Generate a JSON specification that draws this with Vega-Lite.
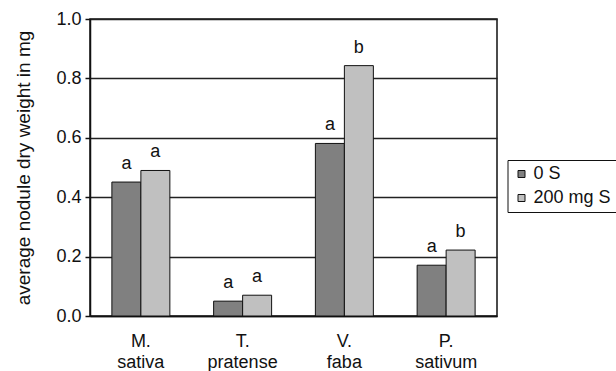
{
  "$schema": "https://vega.github.io/schema/vega-lite/v6.json",
  "autosize": {"type": "none"},
  "padding": {"left": 90, "top": 19, "right": 119, "bottom": 55},
  "width": 407,
  "height": 297,
  "background": "white",
  "config": {
    "font": "Liberation Sans",
    "view": {"stroke": "#111", "strokeWidth": 1.5},
    "axis": {"labelColor": "#111", "titleColor": "#111", "labelFont": "Liberation Sans", "titleFont": "Liberation Sans"}
  },
  "data": {
    "values": [
      {"species": "M. sativa", "group": "0 S", "value": 0.451, "letter": "a"},
      {"species": "M. sativa", "group": "200 mg S", "value": 0.49, "letter": "a"},
      {"species": "T. pratense", "group": "0 S", "value": 0.05, "letter": "a"},
      {"species": "T. pratense", "group": "200 mg S", "value": 0.07, "letter": "a"},
      {"species": "V. faba", "group": "0 S", "value": 0.581, "letter": "a"},
      {"species": "V. faba", "group": "200 mg S", "value": 0.843, "letter": "b"},
      {"species": "P. sativum", "group": "0 S", "value": 0.171, "letter": "a"},
      {"species": "P. sativum", "group": "200 mg S", "value": 0.222, "letter": "b"}
    ]
  },
  "encoding": {
    "x": {
      "field": "species", "type": "nominal", "sort": null,
      "scale": {"paddingInner": 0.43, "paddingOuter": 0.215},
      "axis": {
        "title": null, "labelAngle": 0, "ticks": false, "labelPadding": 16,
        "labelFontSize": 18, "labelLineHeight": 21,
        "labelExpr": "split(datum.value, ' ')",
        "domainColor": "#111", "domainWidth": 1.5
      }
    },
    "xOffset": {"field": "group", "type": "nominal", "sort": null, "scale": {"paddingInner": 0, "paddingOuter": 0}},
    "y": {
      "field": "value", "type": "quantitative",
      "scale": {"domain": [0, 1], "nice": false},
      "axis": {
        "title": "average nodule dry weight in mg", "titleFontSize": 19, "titleFontWeight": "normal", "titlePadding": 22,
        "values": [0, 0.2, 0.4, 0.6, 0.8, 1.0], "format": ".1f",
        "labelFontSize": 18, "labelPadding": 4, "tickSize": 5, "tickColor": "#111", "tickWidth": 1.5,
        "domainColor": "#111", "domainWidth": 1.5,
        "grid": true, "gridColor": "#222", "gridWidth": 1.5, "gridOpacity": 1
      }
    }
  },
  "layer": [
    {
      "mark": {"type": "bar", "stroke": "#111", "strokeWidth": 1},
      "encoding": {
        "color": {
          "field": "group", "type": "nominal", "sort": null,
          "scale": {"domain": ["0 S", "200 mg S"], "range": ["#808080", "#c0c0c0"]},
          "legend": {
            "title": null, "orient": "none", "legendX": 417.5, "legendY": 141,
            "strokeColor": "#111", "padding": 5, "symbolType": "square", "symbolSize": 49,
            "symbolStrokeColor": "#111", "symbolStrokeWidth": 1, "labelFontSize": 18,
            "labelColor": "#111", "labelOffset": 3, "rowPadding": 6
          }
        }
      }
    },
    {
      "mark": {"type": "text", "dy": -13, "baseline": "alphabetic", "fontSize": 18, "color": "#111"},
      "encoding": {"text": {"field": "letter"}}
    }
  ]
}
